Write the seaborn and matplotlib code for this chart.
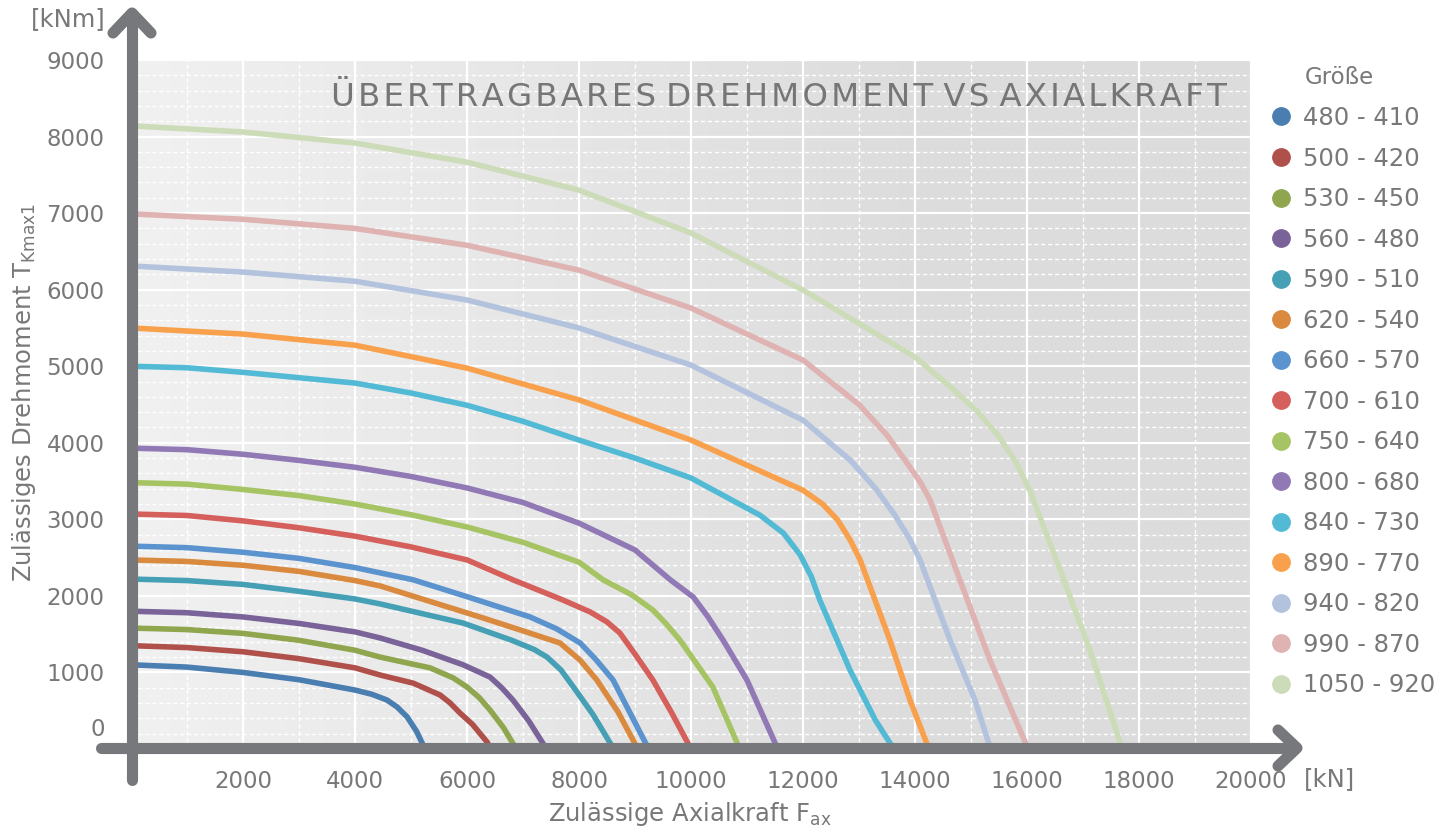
import numpy as np
import pandas as pd
import seaborn as sns
import matplotlib
matplotlib.use("Agg")
import matplotlib.pyplot as plt
import matplotlib.transforms as mtransforms
from matplotlib.lines import Line2D
from matplotlib.ticker import MultipleLocator

# ---------------- data ----------------
sizes = ["480 - 410", "500 - 420", "530 - 450", "560 - 480", "590 - 510",
         "620 - 540", "660 - 570", "700 - 610", "750 - 640", "800 - 680",
         "840 - 730", "890 - 770", "940 - 820", "990 - 870", "1050 - 920"]

colors = ["#4A7DB0", "#B0504A", "#8FA64F", "#7A6399", "#46A0B5",
          "#DA8A3E", "#5B93CF", "#D55F5A", "#A6C463", "#9079B5",
          "#52BAD5", "#F8A04C", "#B3C3DE", "#DEB3B2", "#CDDCB8"]

F_480 = [0, 1000, 2000, 3000, 4000, 4300, 4570, 4750, 4930, 5100, 5250]
T_480 = [1100, 1070, 1000, 905, 770, 715, 640, 550, 420, 230, 0]

F_500 = [0, 1000, 2000, 3000, 4000, 4450, 5040, 5520, 5700, 5875, 6100, 6360, 6420]
T_500 = [1350, 1325, 1270, 1180, 1060, 966, 860, 705, 600, 470, 320, 90, 0]

F_530 = [0, 1000, 2000, 3000, 4000, 4450, 5340, 5750, 6000, 6220, 6410, 6650, 6880]
T_530 = [1580, 1560, 1510, 1420, 1290, 1200, 1060, 930, 810, 670, 510, 280, 0]

F_560 = [0, 1000, 2000, 3000, 4000, 4450, 5200, 5930, 6410, 6620, 6820, 7100, 7420]
T_560 = [1800, 1780, 1725, 1640, 1530, 1450, 1290, 1100, 940, 800, 640, 370, 0]

F_590 = [0, 1000, 2000, 3000, 4000, 4450, 5930, 6800, 7200, 7430, 7680, 7900, 8250, 8620]
T_590 = [2220, 2200, 2150, 2060, 1960, 1895, 1645, 1420, 1300, 1200, 1030, 810, 450, 0]

F_620 = [0, 1000, 2000, 3000, 4000, 4450, 6230, 6950, 7660, 8020, 8320, 8700, 9050]
T_620 = [2470, 2450, 2400, 2320, 2200, 2130, 1725, 1555, 1385, 1160, 900, 480, 0]

F_660 = [0, 1000, 2000, 3000, 4000, 5040, 6000, 7125, 7600, 8020, 8300, 8610, 9180, 9250]
T_660 = [2650, 2630, 2570, 2490, 2370, 2210, 1990, 1725, 1570, 1385, 1170, 900, 90, 0]

F_700 = [0, 1000, 2000, 3000, 4000, 5000, 6000, 6820, 7700, 8200, 8500, 8730, 9000, 9320, 9650, 10000]
T_700 = [3070, 3050, 2980, 2890, 2780, 2640, 2470, 2210, 1950, 1790, 1660, 1515, 1240, 900, 480, 0]

F_750 = [0, 1000, 2000, 3000, 4000, 5000, 6000, 7000, 8000, 8430, 8950, 9320, 9550, 9800, 10390, 10870]
T_750 = [3480, 3460, 3390, 3310, 3200, 3060, 2900, 2700, 2440, 2210, 2010, 1815, 1640, 1425, 810, 0]

F_800 = [0, 1000, 2000, 3000, 4000, 5000, 6000, 7000, 8000, 9000, 9630, 10040, 10300, 10570, 11000, 11550]
T_800 = [3930, 3910, 3850, 3770, 3680, 3560, 3410, 3220, 2950, 2600, 2210, 1985, 1730, 1425, 900, 0]

F_840 = [0, 1000, 2000, 3000, 4000, 5000, 6000, 7000, 8000, 9000, 10000, 11230, 11650, 11950, 12150, 12300, 12840, 13290, 13620]
T_840 = [5000, 4980, 4920, 4850, 4780, 4650, 4490, 4280, 4035, 3800, 3540, 3055, 2820, 2535, 2250, 1945, 1030, 380, 0]

F_890 = [0, 2000, 4000, 6000, 8000, 10000, 12000, 12350, 12620, 12850, 13020, 13550, 13910, 14250]
T_890 = [5500, 5420, 5275, 4975, 4560, 4035, 3380, 3200, 2990, 2720, 2470, 1425, 640, 0]

F_940 = [0, 2000, 4000, 6000, 8000, 10000, 12000, 12840, 13300, 13640, 13900, 14090, 14625, 15070, 15350]
T_940 = [6310, 6230, 6110, 5865, 5500, 5015, 4295, 3775, 3400, 3055, 2750, 2470, 1425, 640, 0]

F_990 = [0, 2000, 4000, 6000, 8000, 10000, 12000, 13000, 13500, 13820, 14100, 14270, 14800, 15340, 16020]
T_990 = [6990, 6920, 6800, 6580, 6255, 5760, 5080, 4500, 4100, 3775, 3480, 3250, 2210, 1160, 0]

F_1050 = [0, 2000, 4000, 6000, 8000, 10000, 12000, 14000, 14600, 15100, 15500, 15800, 16050, 16590, 17125, 17700]
T_1050 = [8140, 8060, 7915, 7665, 7300, 6740, 5995, 5120, 4750, 4420, 4080, 3750, 3380, 2340, 1290, 0]

series_F = [F_480, F_500, F_530, F_560, F_590, F_620, F_660, F_700,
            F_750, F_800, F_840, F_890, F_940, F_990, F_1050]
series_T = [T_480, T_500, T_530, T_560, T_590, T_620, T_660, T_700,
            T_750, T_800, T_840, T_890, T_940, T_990, T_1050]

x_ticks = [2000, 4000, 6000, 8000, 10000, 12000, 14000, 16000, 18000, 20000]
y_ticks = [0, 1000, 2000, 3000, 4000, 5000, 6000, 7000, 8000, 9000]

rows = []
for name, fs, ts in zip(sizes, series_F, series_T):
    for i, (f, t) in enumerate(zip(fs, ts)):
        rows.append({"Größe": name, "F": f, "T": t, "idx": i})
df = pd.DataFrame(rows)

# ---------------- style ----------------
sns.set_style("white")
plt.rcParams["font.family"] = ["DejaVu Sans"]
TXT = "#787878"
AX = "#77787B"

W, H = 1443, 830
fig = plt.figure(figsize=(W / 100, H / 100), dpi=100)
x0, x1 = 131, 1251
y0, y1 = 749, 60
ax = fig.add_axes([x0 / W, 1 - y0 / H, (x1 - x0) / W, (y0 - y1) / H])

# gradient background
grad = np.clip(np.linspace(0, 1, 400) / 0.72, 0, 1)
c_left = np.array([0xF1, 0xF1, 0xF1]) / 255
c_right = np.array([0xDC, 0xDC, 0xDC]) / 255
img = c_left[None, :] + (c_right - c_left)[None, :] * grad[:, None]
img = np.repeat(img[None, :, :], 2, axis=0)
ax.imshow(img, extent=[0, 20000, 0, 9000], aspect="auto", zorder=-10,
          interpolation="bilinear")

sns.lineplot(data=df, x="F", y="T", hue="Größe", hue_order=sizes,
             palette=colors, units="Größe", estimator=None, sort=False,
             linewidth=4.0, legend=False, ax=ax, zorder=3)
for ln in ax.lines:
    ln.set_solid_joinstyle("round")
    ln.set_solid_capstyle("butt")

ax.set_xlim(0, 20000)
ax.set_ylim(0, 9000)
ax.set_xticks(x_ticks)
ax.set_yticks(y_ticks)
ax.set_xticklabels([str(v) for v in x_ticks])
ax.set_yticklabels([str(v) for v in y_ticks])
ax.xaxis.set_minor_locator(MultipleLocator(1000))
ax.yaxis.set_minor_locator(MultipleLocator(200))
ax.grid(which="major", color="white", linewidth=1.6, linestyle="-", zorder=1)
ax.grid(which="minor", color="white", linewidth=1.0, linestyle=(0, (3, 2)), zorder=1)
ax.set_axisbelow(True)
for s in ax.spines.values():
    s.set_visible(False)
ax.tick_params(which="both", length=0)
ax.tick_params(axis="x", labelsize=16.5, labelcolor=TXT, pad=15)
ax.tick_params(axis="y", labelsize=16.5, labelcolor=TXT, pad=19)

# shift the "0" label up like the original
offset = mtransforms.ScaledTranslation(0, 22 / 100, fig.dpi_scale_trans)
for tk in ax.yaxis.get_major_ticks():
    if tk.get_loc() == 0:
        tk.label1.set_transform(tk.label1.get_transform() + offset)

ax.set_xlabel(r"Zulässige Axialkraft F$_\mathregular{ax}$", fontsize=17.5, color=TXT)
ax.set_ylabel(r"Zulässiges Drehmoment T$_\mathregular{Kmax1}$", fontsize=17.5, color=TXT)
ax.xaxis.set_label_coords((690 - x0) / (x1 - x0), (y0 - 800) / (y0 - y1))
ax.yaxis.set_label_coords((38 - x0) / (x1 - x0), (y0 - 392) / (y0 - y1))
ax.xaxis.label.set_va("top")

title = "ÜBERTRAGBARES DREHMOMENT VS AXIALKRAFT"
title_spaced = " ".join("\u200a".join(w) for w in title.split(" "))
ax.text(0.5 * (333 + 1225 - 2 * x0) / (x1 - x0), (y0 - 97) / (y0 - y1),
        title_spaced, transform=ax.transAxes,
        ha="center", va="center", fontsize=23.3, color="#767676", zorder=5)

# legend
handles = [Line2D([], [], marker="o", linestyle="", color=c, markersize=12.5)
           for c in colors]
leg = ax.legend(handles, sizes, loc="upper left",
                bbox_to_anchor=(1269 / W, 1 - 106 / H), bbox_transform=fig.transFigure,
                frameon=False, fontsize=17.5, handlelength=1.0, handletextpad=0.4,
                labelspacing=0.68, borderpad=0, borderaxespad=0)
for t in leg.get_texts():
    t.set_color(TXT)
fig.text(1305 / W, 1 - 77 / H, "Größe", fontsize=16.5, color=TXT, ha="left", va="center")

# overlay for axis arrows and unit labels
ov = fig.add_axes([0, 0, 1, 1], zorder=10)
ov.set_xlim(0, W)
ov.set_ylim(H, 0)
ov.axis("off")
ov.patch.set_alpha(0)
lw = 8.0
ov.plot([132, 132], [780, 16], color=AX, lw=lw, solid_capstyle="round")
ov.plot([113, 132, 151], [33, 13, 33], color=AX, lw=lw, solid_capstyle="round",
        solid_joinstyle="round")
ov.plot([101, 1294], [748, 748], color=AX, lw=lw, solid_capstyle="round")
ov.plot([1278, 1297, 1278], [730, 748, 766], color=AX, lw=lw, solid_capstyle="round",
        solid_joinstyle="round")
ov.text(106, 19, "[kNm]", fontsize=17.5, color=TXT, ha="right", va="center")
ov.text(1304, 779, "[kN]", fontsize=17.5, color=TXT, ha="left", va="center")

fig.savefig("out.png", dpi=100)
